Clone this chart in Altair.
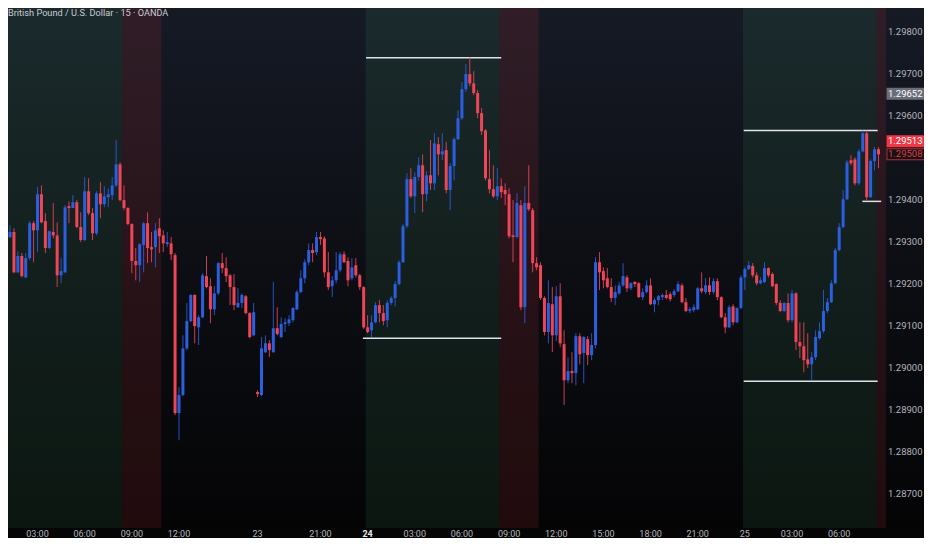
import altair as alt
import pandas as pd

# ---------------- data (GBP/USD 15-minute candles) ----------------
OPEN = [1.29375,1.29311,1.29323,1.29227,1.29266,1.29215,1.29261,1.29344,1.29327,1.29413,
1.29349,1.29285,1.29323,1.29315,1.29220,1.29227,1.29385,1.29380,1.29394,1.29335,
1.29304,1.29420,1.29368,1.29320,1.29415,1.29389,1.29406,1.29411,1.29434,1.29484,
1.29399,1.29380,1.29342,1.29254,1.29244,1.29292,1.29344,1.29287,1.29287,1.29332,
1.29315,1.29294,1.29296,1.29268,1.28892,1.28935,1.29046,1.29111,1.29173,1.29096,
1.29120,1.29218,1.29194,1.29139,1.29177,1.29249,1.29237,1.29220,1.29192,1.29144,
1.29154,1.29170,1.29130,1.29077,1.28942,1.28935,1.29037,1.29058,1.29037,1.29094,
1.29073,1.29104,1.29106,1.29113,1.29139,1.29180,1.29213,1.29251,1.29280,1.29275,
1.29311,1.29308,1.29227,1.29194,1.29208,1.29232,1.29270,1.29254,1.29213,1.29244,
1.29220,1.29192,1.29096,1.29089,1.29108,1.29149,1.29130,1.29113,1.29154,1.29166,
1.29199,1.29251,1.29337,1.29449,1.29408,1.29454,1.29482,1.29413,1.29458,1.29439,
1.29532,1.29508,1.29518,1.29423,1.29480,1.29544,1.29594,1.29663,1.29699,1.29677,
1.29654,1.29606,1.29565,1.29449,1.29425,1.29408,1.29432,1.29423,1.29413,1.29315,
1.29311,1.29387,1.29144,1.29392,1.29375,1.29249,1.29244,1.29166,1.29085,1.29151,
1.29077,1.29170,1.29056,1.28970,1.28992,1.28987,1.29075,1.29035,1.29068,1.29030,
1.29054,1.29251,1.29230,1.29213,1.29192,1.29166,1.29177,1.29196,1.29215,1.29189,
1.29204,1.29201,1.29168,1.29180,1.29196,1.29151,1.29161,1.29168,1.29173,1.29175,
1.29173,1.29182,1.29196,1.29156,1.29135,1.29137,1.29139,1.29189,1.29180,1.29196,
1.29180,1.29206,1.29168,1.29120,1.29096,1.29146,1.29108,1.29142,1.29215,1.29235,
1.29242,1.29220,1.29201,1.29204,1.29237,1.29223,1.29199,1.29154,1.29135,1.29154,
1.29113,1.29177,1.29061,1.29051,1.29020,1.29008,1.29025,1.29070,1.29087,1.29135,
1.29156,1.29201,1.29280,1.29335,1.29401,1.29494,1.29496,1.29439,1.29515,1.29558,
1.29406,1.29492,1.29520]

HIGH = [1.29380,1.29339,1.29332,1.29277,1.29273,1.29273,1.29349,1.29349,1.29430,1.29434,
1.29368,1.29327,1.29392,1.29346,1.29261,1.29387,1.29396,1.29411,1.29399,1.29370,
1.29454,1.29451,1.29380,1.29420,1.29442,1.29432,1.29427,1.29454,1.29542,1.29489,
1.29434,1.29382,1.29344,1.29285,1.29296,1.29346,1.29370,1.29323,1.29344,1.29356,
1.29327,1.29323,1.29311,1.29273,1.28954,1.29077,1.29154,1.29175,1.29175,1.29125,
1.29225,1.29266,1.29213,1.29194,1.29251,1.29273,1.29263,1.29223,1.29223,1.29189,
1.29177,1.29173,1.29132,1.29154,1.28946,1.29073,1.29077,1.29066,1.29204,1.29144,
1.29120,1.29118,1.29125,1.29144,1.29185,1.29232,1.29258,1.29296,1.29296,1.29323,
1.29323,1.29313,1.29275,1.29218,1.29275,1.29275,1.29277,1.29263,1.29261,1.29261,
1.29223,1.29194,1.29125,1.29125,1.29156,1.29161,1.29149,1.29161,1.29170,1.29206,
1.29256,1.29342,1.29463,1.29475,1.29465,1.29501,1.29508,1.29468,1.29542,1.29558,
1.29549,1.29558,1.29537,1.29487,1.29549,1.29613,1.29680,1.29723,1.29739,1.29706,
1.29661,1.29618,1.29568,1.29518,1.29482,1.29475,1.29451,1.29439,1.29427,1.29399,
1.29415,1.29399,1.29432,1.29482,1.29380,1.29263,1.29251,1.29170,1.29208,1.29192,
1.29194,1.29201,1.29089,1.29025,1.29037,1.29082,1.29082,1.29075,1.29075,1.29082,
1.29263,1.29275,1.29239,1.29237,1.29213,1.29196,1.29204,1.29249,1.29220,1.29204,
1.29206,1.29204,1.29189,1.29208,1.29213,1.29166,1.29173,1.29177,1.29185,1.29180,
1.29187,1.29206,1.29201,1.29166,1.29144,1.29151,1.29192,1.29227,1.29213,1.29215,
1.29213,1.29213,1.29170,1.29130,1.29149,1.29151,1.29144,1.29220,1.29239,1.29254,
1.29249,1.29227,1.29215,1.29251,1.29239,1.29227,1.29201,1.29161,1.29156,1.29177,
1.29185,1.29180,1.29108,1.29108,1.29082,1.29037,1.29089,1.29108,1.29185,1.29166,
1.29208,1.29285,1.29344,1.29423,1.29494,1.29506,1.29501,1.29520,1.29565,1.29565,
1.29496,1.29525,1.29525]

LOW = [1.29311,1.29308,1.29225,1.29225,1.29215,1.29213,1.29256,1.29251,1.29275,1.29344,
1.29273,1.29282,1.29308,1.29192,1.29201,1.29225,1.29344,1.29380,1.29332,1.29299,
1.29301,1.29363,1.29304,1.29315,1.29356,1.29382,1.29382,1.29399,1.29430,1.29396,
1.29375,1.29339,1.29225,1.29208,1.29204,1.29227,1.29249,1.29251,1.29239,1.29273,
1.29275,1.29287,1.29256,1.28887,1.28827,1.28932,1.29042,1.29108,1.29058,1.29054,
1.29118,1.29189,1.29106,1.29125,1.29173,1.29225,1.29204,1.29149,1.29137,1.29142,
1.29142,1.29127,1.29070,1.29075,1.28930,1.28932,1.29035,1.29025,1.29035,1.29077,
1.29070,1.29085,1.29099,1.29108,1.29137,1.29177,1.29201,1.29244,1.29251,1.29268,
1.29292,1.29215,1.29185,1.29168,1.29201,1.29227,1.29249,1.29194,1.29208,1.29215,
1.29185,1.29092,1.29082,1.29073,1.29106,1.29108,1.29101,1.29096,1.29149,1.29146,
1.29196,1.29249,1.29332,1.29404,1.29368,1.29446,1.29370,1.29396,1.29423,1.29423,
1.29458,1.29494,1.29415,1.29375,1.29446,1.29542,1.29589,1.29656,1.29670,1.29649,
1.29594,1.29554,1.29446,1.29415,1.29404,1.29399,1.29404,1.29387,1.29308,1.29251,
1.29308,1.29137,1.29106,1.29373,1.29227,1.29232,1.29161,1.29077,1.29058,1.29037,
1.29063,1.29049,1.28911,1.28963,1.28963,1.28958,1.29008,1.28963,1.29006,1.29018,
1.29046,1.29185,1.29189,1.29189,1.29156,1.29149,1.29173,1.29192,1.29180,1.29185,
1.29192,1.29166,1.29161,1.29177,1.29149,1.29132,1.29149,1.29161,1.29163,1.29158,
1.29168,1.29180,1.29154,1.29132,1.29130,1.29132,1.29137,1.29177,1.29175,1.29173,
1.29175,1.29161,1.29118,1.29082,1.29094,1.29101,1.29106,1.29139,1.29185,1.29232,
1.29215,1.29196,1.29199,1.29201,1.29215,1.29192,1.29149,1.29132,1.29132,1.29108,
1.29108,1.29042,1.29023,1.28989,1.28999,1.28970,1.29018,1.29066,1.29082,1.29130,
1.29154,1.29199,1.29277,1.29332,1.29399,1.29482,1.29434,1.29434,1.29513,1.29396,
1.29404,1.29470,1.29475]

CLOSE = [1.29315,1.29323,1.29227,1.29266,1.29218,1.29261,1.29344,1.29327,1.29413,1.29346,
1.29285,1.29325,1.29315,1.29220,1.29230,1.29382,1.29380,1.29394,1.29335,1.29304,
1.29420,1.29368,1.29320,1.29415,1.29389,1.29408,1.29413,1.29434,1.29484,1.29399,
1.29380,1.29342,1.29254,1.29244,1.29294,1.29344,1.29285,1.29282,1.29327,1.29313,
1.29296,1.29299,1.29270,1.28892,1.28935,1.29046,1.29111,1.29173,1.29099,1.29120,
1.29220,1.29192,1.29139,1.29177,1.29249,1.29237,1.29218,1.29192,1.29149,1.29154,
1.29173,1.29130,1.29073,1.29132,1.28937,1.29046,1.29058,1.29042,1.29094,1.29080,
1.29104,1.29108,1.29115,1.29142,1.29180,1.29213,1.29251,1.29280,1.29273,1.29311,
1.29306,1.29227,1.29192,1.29208,1.29232,1.29270,1.29251,1.29208,1.29239,1.29220,
1.29192,1.29096,1.29085,1.29108,1.29149,1.29130,1.29111,1.29154,1.29166,1.29199,
1.29251,1.29337,1.29449,1.29408,1.29454,1.29482,1.29413,1.29458,1.29439,1.29534,
1.29508,1.29515,1.29423,1.29480,1.29544,1.29594,1.29663,1.29699,1.29677,1.29654,
1.29606,1.29563,1.29451,1.29425,1.29408,1.29432,1.29418,1.29413,1.29313,1.29311,
1.29392,1.29144,1.29392,1.29377,1.29249,1.29239,1.29166,1.29085,1.29154,1.29077,
1.29170,1.29058,1.28970,1.28992,1.28987,1.29075,1.29032,1.29073,1.29030,1.29054,
1.29251,1.29227,1.29208,1.29192,1.29166,1.29180,1.29196,1.29218,1.29189,1.29201,
1.29199,1.29168,1.29180,1.29196,1.29151,1.29161,1.29170,1.29173,1.29166,1.29163,
1.29182,1.29199,1.29156,1.29135,1.29139,1.29144,1.29189,1.29182,1.29196,1.29180,
1.29206,1.29168,1.29120,1.29096,1.29144,1.29108,1.29142,1.29215,1.29235,1.29244,
1.29220,1.29201,1.29208,1.29237,1.29220,1.29194,1.29154,1.29135,1.29154,1.29113,
1.29177,1.29061,1.29051,1.29018,1.29008,1.29025,1.29073,1.29087,1.29135,1.29156,
1.29201,1.29280,1.29335,1.29401,1.29489,1.29487,1.29439,1.29515,1.29558,1.29406,
1.29492,1.29520,1.29508]

TIME_TICKS = [8, 20, 32, 44, 64, 80, 92, 104, 116, 128, 140, 152, 164, 176, 188, 200, 212]
TIME_LABELS = ["03:00", "06:00", "09:00", "12:00", "23", "21:00", "24", "03:00", "06:00",
               "09:00", "12:00", "15:00", "18:00", "21:00", "25", "03:00", "06:00"]
TIME_BOLD = [0, 0, 0, 0, 0, 0, 1, 0, 0, 0, 0, 0, 0, 0, 0, 0, 0]

PRICE_TICKS = [1.298, 1.297, 1.296, 1.294, 1.293, 1.292, 1.291, 1.290, 1.289, 1.288, 1.287]

SESSION_START = [-1.0, 29.5, 91.5, 125.5, 187.5, 221.5]
SESSION_END = [29.5, 39.5, 125.5, 135.5, 221.5, 224.0]
SESSION_KIND = ["asia", "london", "asia", "london", "asia", "london"]

LEVEL_PRICE = [1.29738, 1.29070, 1.29565, 1.28968, 1.29396]
LEVEL_START = [91.6, 90.8, 187.7, 187.7, 217.9]
LEVEL_END = [126.0, 126.0, 221.8, 221.8, 222.7]

MARKER_PRICE = [1.29652, 1.29513, 1.29508]
MARKER_KIND = ["gray", "red", "outline"]

TITLE = "British Pound / U.S. Dollar · 15 · OANDA"

# ---------------- styling ----------------
W, H = 878, 520          # plot area
PAD_R, PAD_B = 38, 10    # total page fits 932 x 550 with the 8px body margin
BLUE = "#2b5fe0"
RED = "#ef4657"
FONT = "Roboto"
LBL_SIZE = 9.5
xs = alt.Scale(domain=[1.761, 222.64], nice=False, zero=False)
ys = alt.Scale(domain=[1.286183, 1.298564], nice=False, zero=False)

df = pd.DataFrame({"idx": list(range(len(OPEN))), "open": OPEN, "high": HIGH,
                   "low": LOW, "close": CLOSE})
df["dir"] = ["up" if c >= o else "down" for o, c in zip(OPEN, CLOSE)]

one = alt.Data(values=[{"k": 1}])

bg = alt.Chart(one).mark_rect(
    fill=alt.LinearGradient(
        gradient="linear", x1=0, x2=0, y1=0, y2=1,
        stops=[alt.GradientStop(color="#161a25", offset=0),
               alt.GradientStop(color="#0c0e13", offset=0.5),
               alt.GradientStop(color="#040405", offset=1)])
).encode(x=alt.value(0), x2=alt.value(W + PAD_R), y=alt.value(0), y2=alt.value(H + PAD_B))

bottom_strip = alt.Chart(one).mark_rect(fill="#050505").encode(
    x=alt.value(0), x2=alt.value(W + PAD_R), y=alt.value(H), y2=alt.value(H + PAD_B))

sess_df = pd.DataFrame({"s": SESSION_START, "e": SESSION_END, "kind": SESSION_KIND})
sess_green = alt.Chart(sess_df).transform_filter("datum.kind == 'asia'").mark_rect(
    clip=True, opacity=0.11, fill="#4caf6a").encode(
    x=alt.X("s:Q", scale=xs, axis=None), x2="e:Q", y=alt.value(0), y2=alt.value(H))
sess_red = alt.Chart(sess_df).transform_filter("datum.kind == 'london'").mark_rect(
    clip=True, opacity=0.12, fill="#f23645").encode(
    x=alt.X("s:Q", scale=xs, axis=None), x2="e:Q", y=alt.value(0), y2=alt.value(H))

levels = alt.Chart(pd.DataFrame({"p": LEVEL_PRICE, "s": LEVEL_START, "e": LEVEL_END})
).mark_rule(color="#dfe2ea", strokeWidth=1.5, clip=True).encode(
    x=alt.X("s:Q", scale=xs, axis=None), x2="e:Q",
    y=alt.Y("p:Q", scale=ys, axis=None))

color_enc = alt.Color("dir:N", scale=alt.Scale(domain=["up", "down"], range=[BLUE, RED]), legend=None)

wicks = alt.Chart(df).mark_rule(strokeWidth=1, opacity=0.85, clip=True).encode(
    x=alt.X("idx:Q", scale=xs, axis=None),
    y=alt.Y("low:Q", scale=ys, axis=None), y2="high:Q", color=color_enc)

bodies = alt.Chart(df).mark_bar(size=3, clip=True).encode(
    x=alt.X("idx:Q", scale=xs, axis=None),
    y=alt.Y("open:Q", scale=ys, axis=None), y2="close:Q", color=color_enc)

LBL_X = W + 2
price_labels = alt.Chart(pd.DataFrame({"p": PRICE_TICKS})).mark_text(
    align="left", baseline="middle", font=FONT, fontSize=LBL_SIZE, color="#b2b5be"
).encode(x=alt.value(LBL_X), y=alt.Y("p:Q", scale=ys, axis=None),
         text=alt.Text("p:Q", format=".5f"))

mk = pd.DataFrame({"p": MARKER_PRICE, "kind": MARKER_KIND})
gray_box = alt.Chart(mk).transform_filter("datum.kind == 'gray'").mark_rule(
    strokeWidth=12, color="#6a6d78").encode(
    x=alt.value(W + 0.5), x2=alt.value(W + PAD_R), y=alt.Y("p:Q", scale=ys, axis=None))
gray_txt = alt.Chart(mk).transform_filter("datum.kind == 'gray'").mark_text(
    align="left", baseline="middle", font=FONT, fontSize=LBL_SIZE, color="#ffffff").encode(
    x=alt.value(LBL_X), y=alt.Y("p:Q", scale=ys, axis=None), text=alt.Text("p:Q", format=".5f"))

red_box = alt.Chart(mk).transform_filter("datum.kind == 'red'").mark_rule(
    strokeWidth=12, color="#f23645", yOffset=-11).encode(
    x=alt.value(W + 0.5), x2=alt.value(W + PAD_R), y=alt.Y("p:Q", scale=ys, axis=None))
red_txt = alt.Chart(mk).transform_filter("datum.kind == 'red'").mark_text(
    align="left", baseline="middle", font=FONT, fontSize=LBL_SIZE, color="#ffffff", yOffset=-11).encode(
    x=alt.value(LBL_X), y=alt.Y("p:Q", scale=ys, axis=None), text=alt.Text("p:Q", format=".5f"))

out_box = alt.Chart(mk).transform_filter("datum.kind == 'outline'").mark_rule(
    strokeWidth=12, color="#b3303c").encode(
    x=alt.value(W + 0.5), x2=alt.value(W + PAD_R), y=alt.Y("p:Q", scale=ys, axis=None))
out_fill = alt.Chart(mk).transform_filter("datum.kind == 'outline'").mark_rule(
    strokeWidth=10, color="#1a0f12").encode(
    x=alt.value(W + 1.5), x2=alt.value(W + PAD_R), y=alt.Y("p:Q", scale=ys, axis=None))
out_txt = alt.Chart(mk).transform_filter("datum.kind == 'outline'").mark_text(
    align="left", baseline="middle", font=FONT, fontSize=LBL_SIZE, color="#d8404d").encode(
    x=alt.value(LBL_X), y=alt.Y("p:Q", scale=ys, axis=None), text=alt.Text("p:Q", format=".5f"))

tdf = pd.DataFrame({"i": TIME_TICKS, "t": TIME_LABELS, "b": TIME_BOLD})
time_norm = alt.Chart(tdf).transform_filter("datum.b == 0").mark_text(
    align="center", baseline="middle", font=FONT, fontSize=9, color="#b2b5be").encode(
    x=alt.X("i:Q", scale=xs, axis=None), y=alt.value(H + 5.5), text="t:N")
time_bold = alt.Chart(tdf).transform_filter("datum.b == 1").mark_text(
    align="center", baseline="middle", font=FONT, fontSize=9, fontWeight="bold",
    color="#e6e8ee").encode(
    x=alt.X("i:Q", scale=xs, axis=None), y=alt.value(H + 5.5), text="t:N")

title = alt.Chart(one).mark_text(
    align="left", baseline="middle", font=FONT, fontSize=9.2, color="#c9ccd4", text=TITLE
).encode(x=alt.value(0), y=alt.value(4.7))

chart = alt.layer(
    bg, bottom_strip, sess_green, sess_red, levels, wicks, bodies, price_labels,
    gray_box, gray_txt, out_box, out_fill, out_txt, red_box, red_txt,
    time_norm, time_bold, title
).resolve_scale(color="independent").properties(
    width=W, height=H,
    autosize=alt.AutoSizeParams(type="none"),
    padding={"left": 0, "top": 0, "right": PAD_R, "bottom": PAD_B},
    background="#000000"
).configure_view(strokeWidth=0)

chart.save("out.html", embed_options={"renderer": "svg", "actions": False})
